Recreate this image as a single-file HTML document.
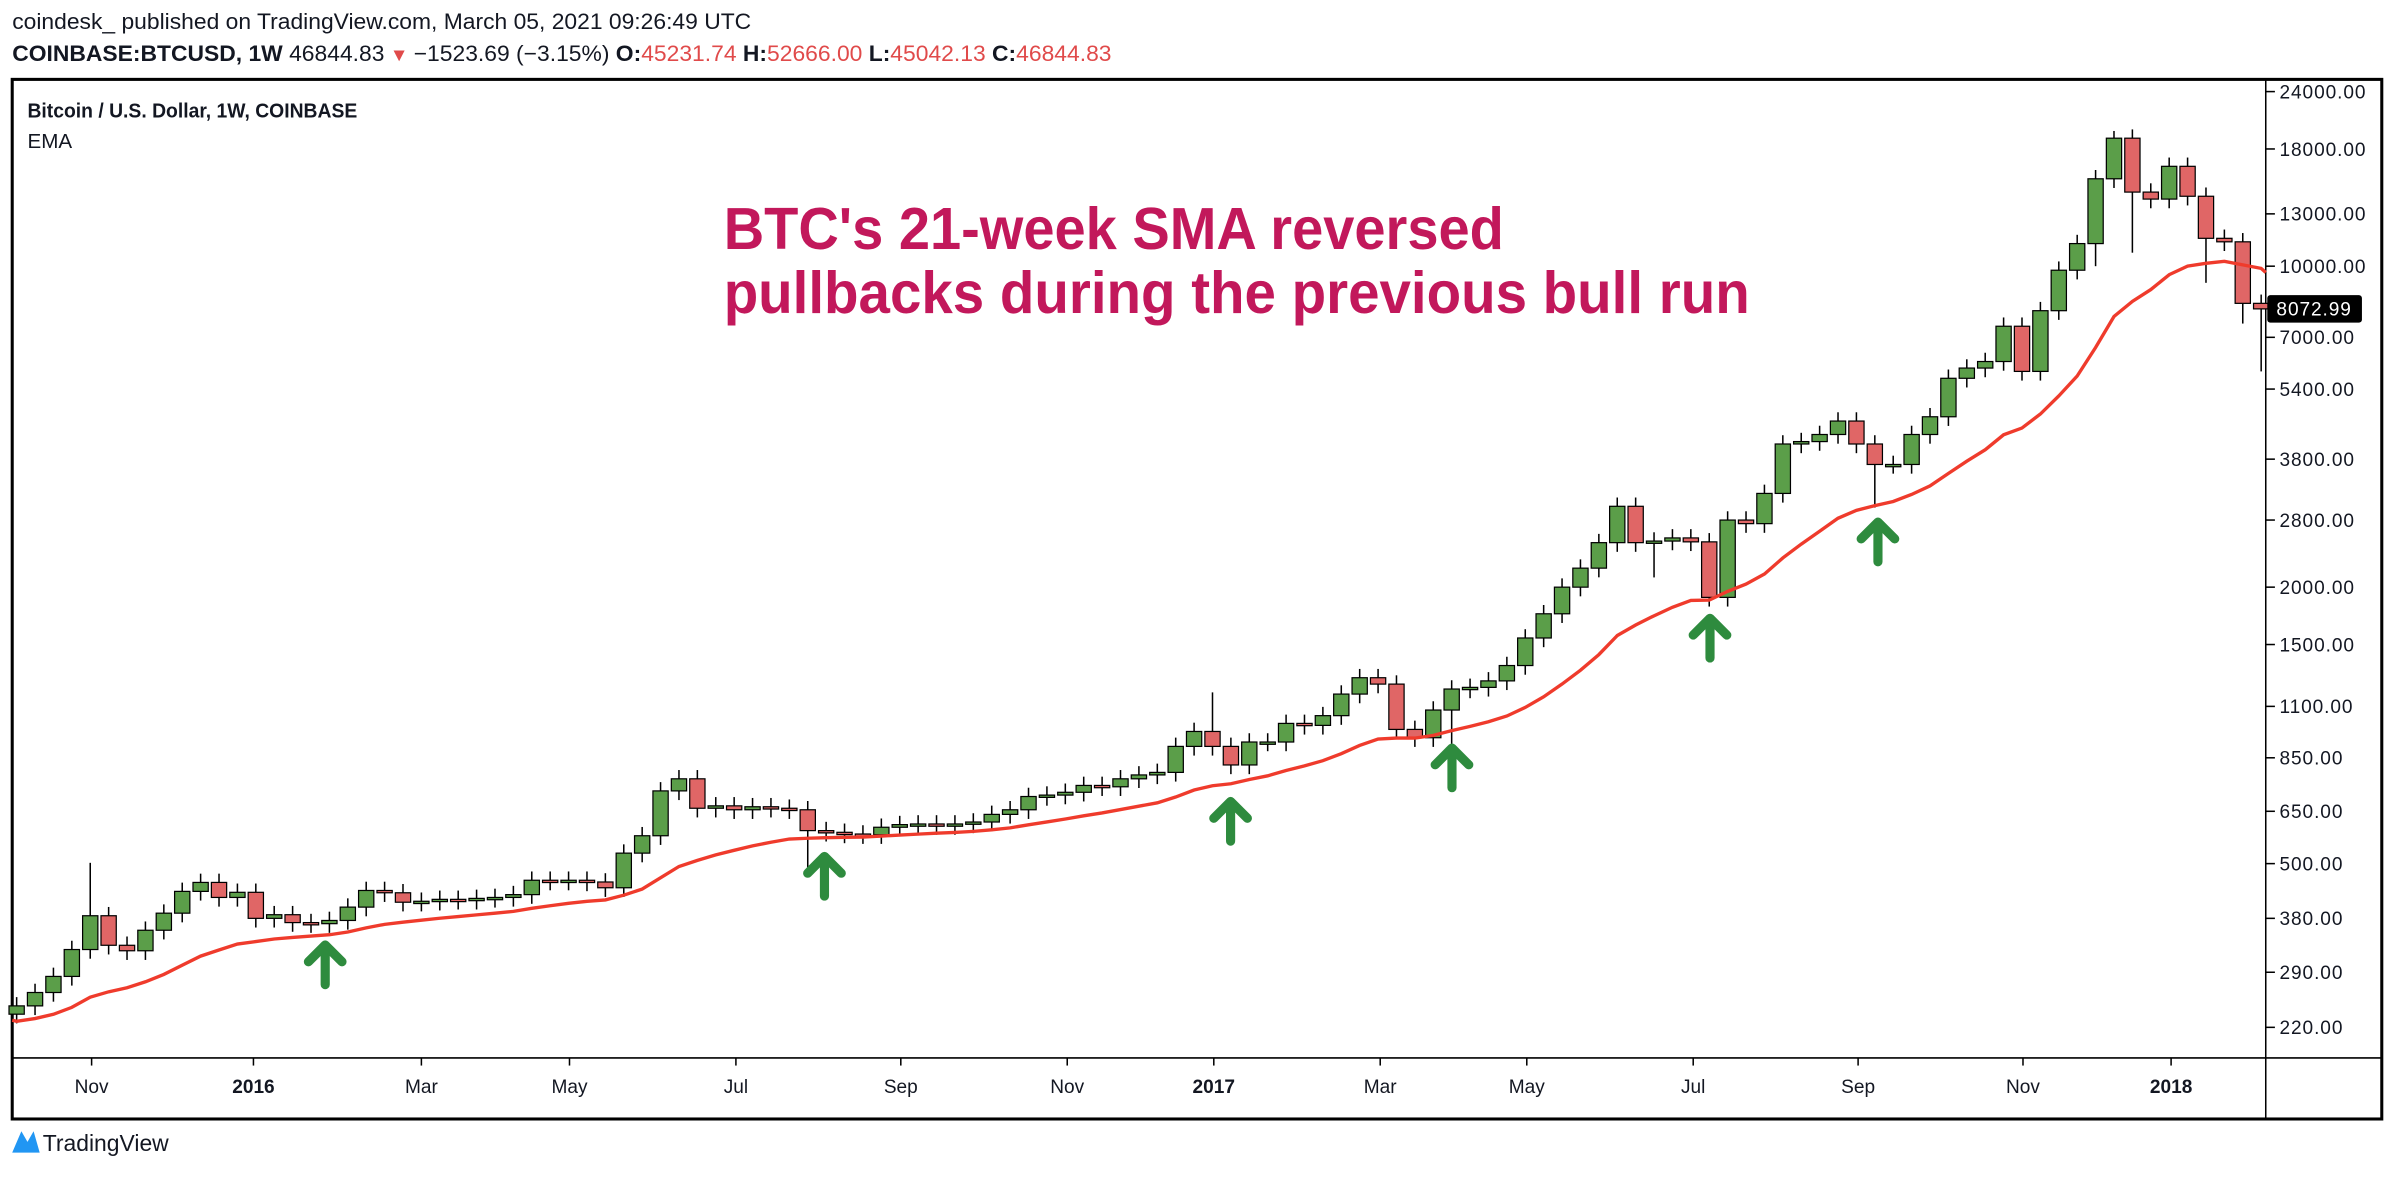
<!DOCTYPE html>
<html><head><meta charset="utf-8"><style>
html,body{margin:0;padding:0;background:#fff;}
svg{display:block;font-family:"Liberation Sans",sans-serif;}
</style></head><body>
<svg id="s" width="2394" height="1177" viewBox="0 0 1568 771" preserveAspectRatio="none" xmlns="http://www.w3.org/2000/svg">
<rect width="1568" height="771" fill="#fff"/>
<text x="8" y="19" font-size="14.5" fill="#131722" textLength="484" lengthAdjust="spacingAndGlyphs">coindesk_ published on TradingView.com, March 05, 2021 09:26:49 UTC</text>
<text x="8" y="40" font-size="14.5" font-weight="bold" fill="#131722" textLength="720" lengthAdjust="spacingAndGlyphs">COINBASE:BTCUSD, 1W <tspan font-weight="normal">46844.83</tspan><tspan fill="#e04a4a" font-size="12"> ▼ </tspan><tspan font-weight="normal">−1523.69 (−3.15%)</tspan> O:<tspan fill="#e04a4a" font-weight="normal">45231.74</tspan> H:<tspan fill="#e04a4a" font-weight="normal">52666.00</tspan> L:<tspan fill="#e04a4a" font-weight="normal">45042.13</tspan> C:<tspan fill="#e04a4a" font-weight="normal">46844.83</tspan></text>
<rect x="8" y="52" width="1552" height="681" fill="none" stroke="#000" stroke-width="2"/>
<line x1="1484" y1="52" x2="1484" y2="733" stroke="#000" stroke-width="1"/>
<line x1="8" y1="693" x2="1560" y2="693" stroke="#000" stroke-width="1"/>
<text x="18" y="77" font-size="13.5" font-weight="bold" fill="#131722" textLength="216" lengthAdjust="spacingAndGlyphs">Bitcoin / U.S. Dollar, 1W, COINBASE</text>
<text x="18" y="97" font-size="13.5" fill="#131722">EMA</text>
<g id="g"></g>
<text x="474" y="163" font-size="39" font-weight="bold" fill="#c2185b" textLength="511" lengthAdjust="spacingAndGlyphs">BTC's 21-week SMA reversed</text>
<text x="474" y="205" font-size="39" font-weight="bold" fill="#c2185b" textLength="672" lengthAdjust="spacingAndGlyphs">pullbacks during the previous bull run</text>
<text x="28" y="754" font-size="15" fill="#131722">TradingView</text>
<path d="M8,755 L14,741 L18,748 L22,741 L26,755 Z" fill="#2196f3"/>
</svg>
<script>
var g=document.getElementById('g'),NS='http://www.w3.org/2000/svg';
function el(t,a,txt){var e=document.createElementNS(NS,t);for(var k in a)e.setAttribute(k,a[k]);if(txt)e.textContent=txt;g.appendChild(e);return e;}
function Y(p){return 60+(Math.log10(24000)-Math.log10(p))*300.8;}
var ticks=[24000,18000,13000,10000,7000,5400,3800,2800,2000,1500,1100,850,650,500,380,290,220];
ticks.forEach(function(p){var y=Y(p);el('line',{x1:1484,y1:y,x2:1490,y2:y,stroke:'#000'});el('text',{x:1493,y:y+4.5,'font-size':12.5,fill:'#131722','letter-spacing':'0.6'},p.toFixed(2));});
var xl=[[60,'Nov'],[166,'2016',1],[276,'Mar'],[373,'May'],[482,'Jul'],[590,'Sep'],[699,'Nov'],[795,'2017',1],[904,'Mar'],[1000,'May'],[1109,'Jul'],[1217,'Sep'],[1325,'Nov'],[1422,'2018',1]];
xl.forEach(function(a){el('line',{x1:a[0],y1:693,x2:a[0],y2:698,stroke:'#000'});var t=el('text',{x:a[0],y:716,'font-size':12.5,'text-anchor':'middle',fill:'#131722'},a[1]);if(a[2])t.setAttribute('font-weight','bold');});
var c=[245,262,284,325,385,332,323,358,390,435,455,422,433,
380,387,372,370,376,402,437,432,412,414,418,416,420,422,428,460,458,460,456,443,527,575,720,765,660,668,655,665,660,655,590,585,580,578,600,608,610,605,610,616,640,655,700,705,715,740,735,765,780,790,900,970,
900,820,920,920,1010,1000,1050,1170,1270,1230,980,940,1080,1200,1210,1250,1350,1550,1750,2000,2200,2500,3000,2500,2520,2560,2510,1900,2800,2750,3200,4100,4150,4300,4600,4100,3700,3700,4300,4700,5700,6000,6200,7400,5900,8000,9800,11200,15500,19000,14500,14000,
16500,14200,11500,11300,8300,8073];
var sp={4:[502,null],43:[null,480],65:[1180,null],78:[null,880],89:[null,2100],101:[null,2980],113:[null,10000],114:[19700,null],115:[null,10700],119:[null,9200],121:[null,7500],122:[null,5900]};
var n=c.length,ema=225,pts=[];
for(var i=0;i<n;i++){
 var x=1481-(n-1-i)*12.05,o=i?c[i-1]:235,cl=c[i];
 var hi=Math.max(o,cl)*1.045,lo=Math.min(o,cl)*0.955;
 if(sp[i]){if(sp[i][0])hi=sp[i][0];if(sp[i][1])lo=sp[i][1];}
 var col=cl>=o?'#5b9e49':'#e06666';
 el('line',{x1:x,y1:Y(hi),x2:x,y2:Y(lo),stroke:'#000','stroke-width':1});
 var y1=Y(Math.max(o,cl)),y2=Y(Math.min(o,cl));if(y2-y1<1.5){y2=y1+1.5;}
 el('rect',{x:x-5,y:y1,width:10,height:y2-y1,fill:col,stroke:'#000','stroke-width':0.8});
 ema=ema+(cl-ema)*2/22;pts.push([x,ema]);
}
var d='M8,'+Y(228);pts.forEach(function(p){d+=' L'+p[0].toFixed(1)+','+Y(p[1]).toFixed(1);});
d+=' L1484,'+Y(pts[pts.length-1][1]*0.98).toFixed(1);
el('path',{d:d,fill:'none',stroke:'#ef3b2c','stroke-width':2.2});
[[213,632],[540,574],[806,538],[951,503],[1120,418],[1230,355]].forEach(function(a){var x=a[0],y=a[1];
 el('path',{d:'M'+(x-11)+','+(y-2)+' L'+x+','+(y-13)+' L'+(x+11)+','+(y-2)+' M'+x+','+(y-12)+' L'+x+','+(y+13),fill:'none',stroke:'#2e8b3e','stroke-width':6,'stroke-linecap':'round','stroke-linejoin':'round'});});
var py=Y(8073);
el('rect',{x:1485,y:py-9,width:62,height:18,fill:'#000',rx:2});
el('text',{x:1491,y:py+4.5,'font-size':12.5,fill:'#fff','letter-spacing':'0.6'},'8072.99');
</script>
</body></html>
